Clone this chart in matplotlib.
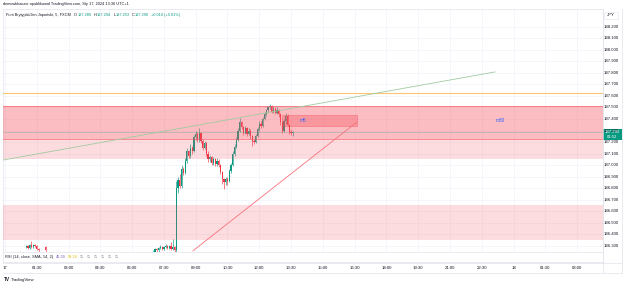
import matplotlib
matplotlib.use("Agg")
import matplotlib.pyplot as plt
from matplotlib.patches import Rectangle
from matplotlib.lines import Line2D
from matplotlib.transforms import blended_transform_factory as btf

plt.rcParams["font.family"] = ["Liberation Sans", "DejaVu Sans"]

# ---------------- data ----------------
night_start = "01:00"
night_open  = [186.29, 186.30, 186.28, 186.31, 186.29, 186.31, 186.30, 186.27, 186.24, 186.22, 186.21, 186.29]
night_high  = [186.31, 186.31, 186.32, 186.34, 186.32, 186.32, 186.31, 186.28, 186.25, 186.23, 186.23, 186.30]
night_low   = [186.28, 186.27, 186.27, 186.28, 186.28, 186.29, 186.26, 186.25, 186.21, 186.20, 186.20, 186.25]
night_close = [186.30, 186.28, 186.31, 186.29, 186.31, 186.30, 186.27, 186.26, 186.22, 186.21, 186.22, 186.26]

day_start = "07:00"
day_open = [186.24, 186.25, 186.27, 186.26, 186.28, 186.29, 186.27, 186.29, 186.30, 186.28, 186.30, 186.27, 186.29,
            186.26, 186.80, 186.87, 186.82, 186.97, 186.93, 187.04, 187.12, 187.08, 187.15,
            187.12, 187.24, 187.27, 187.22, 187.28, 187.21, 187.15, 187.19, 187.10, 187.05,
            187.07, 187.02, 187.05, 187.01, 187.04, 187.00, 186.94, 186.88, 186.85, 186.88,
            186.86, 186.95, 187.00, 187.10, 187.16, 187.22, 187.30, 187.37, 187.33, 187.28,
            187.32, 187.27, 187.30, 187.25, 187.21, 187.20, 187.25, 187.31, 187.36, 187.34,
            187.40, 187.44, 187.48, 187.50, 187.51, 187.46, 187.49, 187.45, 187.48, 187.44,
            187.37, 187.30, 187.38, 187.43, 187.35, 187.29, 187.280]
day_high = [186.26, 186.28, 186.28, 186.29, 186.31, 186.30, 186.30, 186.32, 186.31, 186.31, 186.33, 186.36, 186.30,
            186.86, 186.90, 186.92, 187.00, 186.98, 187.06, 187.15, 187.13, 187.18, 187.17,
            187.26, 187.30, 187.29, 187.32, 187.29, 187.23, 187.21, 187.20, 187.12, 187.09,
            187.08, 187.07, 187.06, 187.06, 187.05, 187.01, 186.95, 186.89, 186.90, 186.90,
            186.97, 187.02, 187.12, 187.18, 187.24, 187.32, 187.41, 187.38, 187.34, 187.34,
            187.33, 187.32, 187.31, 187.26, 187.23, 187.27, 187.33, 187.38, 187.38, 187.42,
            187.46, 187.49, 187.51, 187.53, 187.52, 187.51, 187.50, 187.50, 187.49, 187.45,
            187.38, 187.40, 187.45, 187.44, 187.36, 187.31, 187.294]
day_low = [186.23, 186.24, 186.25, 186.25, 186.27, 186.26, 186.26, 186.28, 186.27, 186.27, 186.26, 186.26, 186.25,
           186.25, 186.76, 186.80, 186.80, 186.91, 186.92, 187.02, 187.06, 187.06, 187.10,
           187.11, 187.22, 187.20, 187.20, 187.19, 187.13, 187.14, 187.08, 187.03, 187.03,
           187.00, 187.00, 186.99, 186.99, 186.98, 186.92, 186.84, 186.79, 186.83, 186.83,
           186.85, 186.93, 186.99, 187.08, 187.15, 187.21, 187.29, 187.31, 187.26, 187.27,
           187.25, 187.26, 187.23, 187.17, 187.18, 187.19, 187.24, 187.30, 187.32, 187.33,
           187.39, 187.43, 187.46, 187.49, 187.45, 187.45, 187.44, 187.44, 187.42, 187.35,
           187.28, 187.29, 187.36, 187.34, 187.27, 187.26, 187.253]
day_close = [186.25, 186.27, 186.26, 186.28, 186.29, 186.27, 186.29, 186.30, 186.28, 186.30, 186.27, 186.29, 186.26,
             186.80, 186.87, 186.82, 186.97, 186.93, 187.04, 187.12, 187.08, 187.15, 187.12,
             187.24, 187.27, 187.22, 187.28, 187.21, 187.15, 187.19, 187.10, 187.05, 187.07,
             187.02, 187.05, 187.01, 187.04, 187.00, 186.94, 186.88, 186.85, 186.88, 186.86,
             186.95, 187.00, 187.10, 187.16, 187.22, 187.30, 187.37, 187.33, 187.28, 187.32,
             187.27, 187.30, 187.25, 187.21, 187.20, 187.25, 187.31, 187.36, 187.34, 187.40,
             187.44, 187.48, 187.50, 187.51, 187.46, 187.49, 187.45, 187.48, 187.44, 187.37,
             187.30, 187.38, 187.43, 187.35, 187.29, 187.28, 187.290]

price_ticks = ["188.200", "188.100", "188.000", "187.900", "187.800", "187.700", "187.600", "187.500",
               "187.400", "187.300", "187.200", "187.100", "187.000", "186.900", "186.800", "186.700",
               "186.600", "186.500", "186.400", "186.300"]
time_ticks = ["17", "01:30", "03:00", "04:30", "06:00", "07:30", "09:00", "10:30", "12:00", "13:30",
              "15:00", "16:30", "18:00", "19:30", "21:00", "22:30", "18", "01:30", "03:00"]
time_tick_hours = [0, 1.5, 3, 4.5, 6, 7.5, 9, 10.5, 12, 13.5, 15, 16.5, 18, 19.5, 21, 22.5, 24, 25.5, 27]

supply_zone = [187.225, 187.51]
supply_ext = [187.05, 187.225]
demand_zone = [186.35, 186.65]
orange_level = 187.623
m5_box = [13.07, 16.61, 187.343, 187.435]
green_trend = [(-0.094, 187.044), (23.12, 187.808)]
red_trend = [(8.87, 186.257), (16.61, 187.374)]
last_price = 187.290

# ---------------- layout ----------------
W, H = 625, 285
fig = plt.figure(figsize=(6.25, 2.85), dpi=100)
fig.patch.set_facecolor("white")
renderer = fig.canvas.get_renderer()
def fx(px): return px / W
def fy(py): return 1 - py / H

UP, DN = "#089981", "#F23645"
TXT = "#131722"
GRID = "#F0F3FA"
BORDER = "#E0E3EB"
FS = 2.8
AFS = 3.1   # axis label size

def seq_text(x0, y, parts):
    """Place text parts one after another (pixel coords)."""
    x = x0
    for s, col, g in parts:
        t = fig.text(fx(x), fy(y), s, fontsize=FS, color=col, va="center")
        bb = t.get_window_extent(renderer)
        x += bb.width + g

ax = fig.add_axes([fx(3), fy(252), (603 - 3) / W, (252 - 9) / H])
ax.set_xlim(-0.094, 28.22)
ax.set_ylim(186.2465, 188.354)
ax.set_xticks([]); ax.set_yticks([])
for s in ax.spines.values():
    s.set_color(BORDER); s.set_linewidth(0.5)

for t in time_tick_hours:
    ax.axvline(t, color=GRID, lw=0.5, zorder=0)
for p in price_ticks:
    ax.axhline(float(p), color=GRID, lw=0.5, zorder=0)

def hours(s):
    hh, mm = s.split(":")
    return int(hh) + int(mm) / 60

def candles(start, o, h, l, c):
    t0 = hours(start)
    for i in range(len(o)):
        t = t0 + i * 5 / 60
        col = UP if c[i] >= o[i] else DN
        ax.vlines(t, l[i], h[i], color=col, lw=0.45, zorder=2)
        ax.bar(t, max(abs(c[i] - o[i]), 0.004), bottom=min(o[i], c[i]), width=0.058,
               color=col, lw=0, zorder=3)

candles(night_start, night_open, night_high, night_low, night_close)
candles(day_start, day_open, day_high, day_low, day_close)

# zones
ZC = "#F7525F"
ax.axhspan(supply_ext[0], supply_ext[1], color=ZC, alpha=0.2, lw=0, zorder=4)
ax.axhspan(supply_zone[0], supply_zone[1], color=ZC, alpha=0.38, lw=0, zorder=4)
ax.axhline(supply_zone[0], color=ZC, lw=0.6, alpha=0.7, zorder=4)
ax.axhline(supply_zone[1], color=ZC, lw=0.6, alpha=0.7, zorder=4)
ax.axhspan(demand_zone[0], demand_zone[1], color=ZC, alpha=0.2, lw=0, zorder=4)
ax.axhline(orange_level, color="#FFB74D", lw=0.8, alpha=0.8, zorder=4)
ax.axhline(last_price, color="#089981", lw=0.5, alpha=0.3, zorder=4)

ax.add_patch(Rectangle((m5_box[0], m5_box[2]), m5_box[1] - m5_box[0], m5_box[3] - m5_box[2],
                       facecolor=ZC, alpha=0.35, edgecolor=DN, lw=0.6, zorder=5))
ax.plot([green_trend[0][0], green_trend[1][0]], [green_trend[0][1], green_trend[1][1]],
        color="#9FCB9F", lw=0.6, zorder=5)
ax.plot([red_trend[0][0], red_trend[1][0]], [red_trend[0][1], red_trend[1][1]],
        color="#F7727C", lw=0.6, zorder=5)
ax.text(14.06, 187.39, "m5", color="#2962FF", fontsize=3.4, ha="center", va="center", zorder=6)
ax.text(23.36, 187.39, "m30", color="#2962FF", fontsize=3.4, ha="center", va="center", zorder=6)

# price axis
ptr = btf(fig.transFigure, ax.transData)
for p in price_ticks:
    fig.text(fx(611.5), float(p), p, transform=ptr, fontsize=AFS, color=TXT, ha="center", va="center")
fig.add_artist(Rectangle((fx(603.5), fy(18.5)), 14 / W, 7 / H, transform=fig.transFigure,
                         facecolor="white", edgecolor=BORDER, lw=0.4))
fig.text(fx(610.5), fy(15), "JPY", fontsize=AFS, color=TXT, ha="center", va="center")
fig.add_artist(Rectangle((fx(603), fy(139.5)), 19 / W, 10.5 / H, transform=fig.transFigure,
                         facecolor=UP, edgecolor="none"))
fig.text(fx(612), fy(132), "187.290", fontsize=AFS, color="white", ha="center", va="center")
fig.text(fx(612), fy(136.9), "01:52", fontsize=AFS, color="white", ha="center", va="center")

# RSI pane
rsi = fig.add_axes([fx(3), fy(262), 600 / W, 10 / H])
rsi.set_xticks([]); rsi.set_yticks([])
for s in rsi.spines.values():
    s.set_color(BORDER); s.set_linewidth(0.5)
seq_text(5, 256.7, [("RSI (14, close, SMA, 14, 2)", TXT, 2.5), ("45.39", "#7E57C2", 2.5),
                    ("59.24", "#E0B800", 2.5)] + [("\u2205", "#787B86", 3.5)] * 6)

# time axis
ttr = btf(ax.transData, fig.transFigure)
for t, lab in zip(time_tick_hours, time_ticks):
    fig.text(t, fy(268), lab, transform=ttr, fontsize=AFS, color=TXT, ha="center", va="center")
for yy in [262.5, 273]:
    fig.add_artist(Line2D([fx(3), fx(622)], [fy(yy), fy(yy)], color=BORDER, lw=0.5))
fig.add_artist(Line2D([fx(603), fx(603)], [fy(9), fy(273)], color=BORDER, lw=0.5))
fig.add_artist(Line2D([fx(622), fx(622)], [fy(9), fy(273)], color=BORDER, lw=0.5))

# header
fig.text(fx(3), fy(4), "demowkkaczor opublikował TradingView.com, Sty 17, 2024 13:36 UTC+1",
         fontsize=FS, color=TXT, va="center")
seq_text(6.5, 15, [("Funt Brytyjski/Jen Japoński, 5, FXCM", TXT, 3.0),
                   ("O", TXT, 0.3), ("187.280", UP, 2.2),
                   ("H", TXT, 0.3), ("187.294", UP, 2.2),
                   ("L", TXT, 0.3), ("187.253", UP, 2.2),
                   ("C", TXT, 0.3), ("187.290", UP, 2.2),
                   ("+0.010 (+0.01%)", UP, 0)])

# footer logo
fig.text(fx(4), fy(279.5), "TV", fontsize=3.4, color=TXT, weight="bold", va="center")
fig.text(fx(11), fy(279.5), "TradingView", fontsize=3.2, color=TXT, va="center")

fig.savefig("out.png", dpi=100)
